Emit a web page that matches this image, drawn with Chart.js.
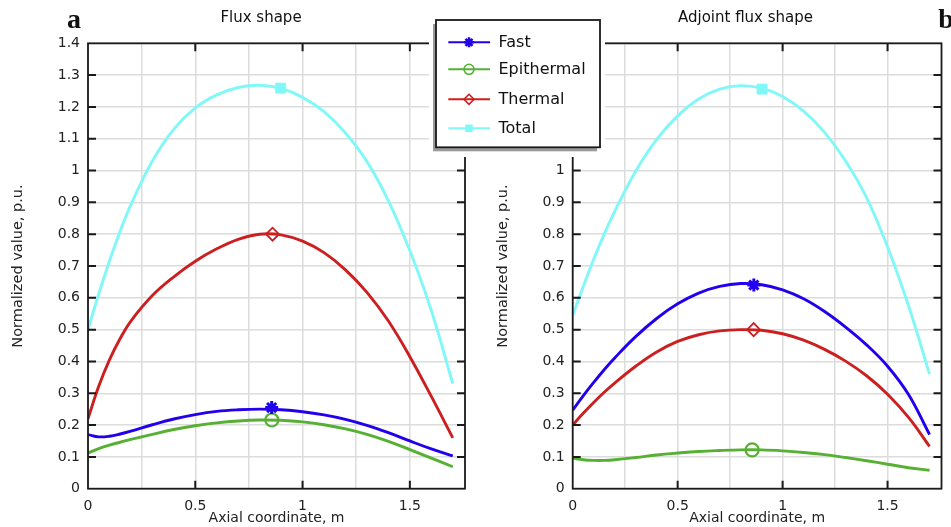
<!DOCTYPE html>
<html lang="en">
<head>
  <meta charset="UTF-8" />
  <title>Flux shape / Adjoint flux shape</title>
  <script src="https://cdn.jsdelivr.net/npm/chart.js"></script>
  <style>
    body {
      margin: 0;
      background: #fff;
    }

    #wrap {
      position: relative;
      width: 951px;
      height: 527px;
      overflow: hidden;
    }

    #fluxChart { position: absolute; left: 0; top: 0; }
    #adjChart  { position: absolute; left: 420px; top: 0; }
  </style>
</head>
<body>
  <div id="wrap">
    <canvas id="fluxChart" width="480" height="527"></canvas>
    <canvas id="adjChart" width="531" height="527"></canvas>
  </div>

  <script>
    // axial positions (m) shared by all curves
    const axialX = [0, 0.05, 0.1, 0.15, 0.2, 0.3, 0.4, 0.5, 0.6, 0.7, 0.8, 0.9, 1.0, 1.1, 1.2, 1.3, 1.4, 1.5, 1.6, 1.7];

    // panel a - flux shape
    const fluxFast    = [0.170, 0.163, 0.165, 0.172, 0.181, 0.201, 0.219, 0.233, 0.243, 0.248, 0.250, 0.248, 0.242, 0.232, 0.218, 0.199, 0.176, 0.150, 0.125, 0.103];
    const fluxEpi     = [0.112, 0.126, 0.137, 0.146, 0.155, 0.171, 0.186, 0.198, 0.207, 0.213, 0.216, 0.215, 0.210, 0.201, 0.188, 0.171, 0.149, 0.123, 0.096, 0.069];
    const fluxThermal = [0.220, 0.322, 0.405, 0.472, 0.527, 0.607, 0.666, 0.715, 0.754, 0.784, 0.800, 0.798, 0.778, 0.742, 0.688, 0.617, 0.527, 0.415, 0.290, 0.160];
    const fluxTotal   = [0.500, 0.612, 0.716, 0.810, 0.893, 1.030, 1.130, 1.197, 1.238, 1.261, 1.268, 1.258, 1.230, 1.185, 1.118, 1.028, 0.905, 0.748, 0.560, 0.330];

    // panel b - adjoint flux shape
    const adjFast    = [0.247, 0.292, 0.334, 0.374, 0.411, 0.478, 0.535, 0.581, 0.615, 0.636, 0.645, 0.641, 0.625, 0.597, 0.557, 0.508, 0.452, 0.385, 0.296, 0.170];
    const adjEpi     = [0.096, 0.091, 0.089, 0.089, 0.091, 0.098, 0.106, 0.112, 0.117, 0.120, 0.122, 0.122, 0.119, 0.114, 0.107, 0.098, 0.088, 0.077, 0.066, 0.058];
    const adjThermal = [0.200, 0.237, 0.271, 0.303, 0.332, 0.385, 0.430, 0.463, 0.484, 0.496, 0.500, 0.498, 0.487, 0.467, 0.438, 0.401, 0.355, 0.297, 0.224, 0.133];
    const adjTotal   = [0.545, 0.635, 0.721, 0.800, 0.872, 0.998, 1.098, 1.172, 1.225, 1.256, 1.267, 1.259, 1.233, 1.187, 1.120, 1.030, 0.915, 0.760, 0.575, 0.360];

    // single marker per curve (fast, epithermal, thermal, total)
    const fluxMarkX = [0.856, 0.857, 0.860, 0.898];
    const fluxMarkY = [0.255, 0.216, 0.800, 1.259];
    const adjMarkX  = [0.863, 0.855, 0.862, 0.902];
    const adjMarkY  = [0.640, 0.122, 0.500, 1.256];

    // ticks
    const xGridTicks = [0, 0.25, 0.5, 0.75, 1, 1.25, 1.5];
    const xLabelTicks = [0, 0.5, 1, 1.5];
    const yTicks = [0, 0.1, 0.2, 0.3, 0.4, 0.5, 0.6, 0.7, 0.8, 0.9, 1, 1.1, 1.2, 1.3, 1.4];

    const seriesNames = ['Fast', 'Epithermal', 'Thermal', 'Total'];
    const seriesColors = ['#2200ee', '#55b033', '#cc1f1f', '#80f8f8'];
    const markStyles = ['star', 'circle', 'rectRot', 'rect'];
    const markRadius = [6.5, 6.5, 6.5, 7];
    const markBorder = [3, 2.2, 1.8, 1];
    const markFill = ['#2200ee', 'rgba(0,0,0,0)', 'rgba(0,0,0,0)', '#80f8f8'];

    const FONT = 'DejaVu Sans';
    const X_MAX = 1.757;
    const TICK = 8;

    function makeDatasets(series, markX, markY) {
      const ds = series.map((vals, i) => ({
        label: seriesNames[i],
        data: axialX.map((x, j) => ({ x: x, y: vals[j] })),
        borderColor: seriesColors[i],
        borderWidth: 2.9,
        pointRadius: 0,
        tension: 0.4,
        fill: false
      }));
      series.forEach((_, i) => {
        ds.push({
          label: seriesNames[i] + ' marker',
          data: [{ x: markX[i], y: markY[i] }],
          showLine: false,
          pointStyle: markStyles[i],
          pointRadius: markRadius[i],
          pointBorderWidth: markBorder[i],
          pointBorderColor: seriesColors[i],
          pointBackgroundColor: markFill[i],
          clip: false
        });
      });
      return ds;
    }

    // box round the plot + inward tick marks
    const frameTicks = {
      id: 'frameTicks',
      afterDatasetsDraw(chart) {
        const { ctx, chartArea: a, scales: { x, y } } = chart;
        ctx.save();
        ctx.strokeStyle = '#1a1a1a';
        ctx.lineWidth = 1.8;
        ctx.strokeRect(a.left, a.top, a.right - a.left, a.bottom - a.top);
        ctx.lineWidth = 2;
        ctx.beginPath();
        xLabelTicks.slice(1).forEach(v => {
          const px = x.getPixelForValue(v);
          ctx.moveTo(px, a.bottom); ctx.lineTo(px, a.bottom - TICK);
          ctx.moveTo(px, a.top); ctx.lineTo(px, a.top + TICK);
        });
        yTicks.slice(1, -1).forEach(v => {
          const py = y.getPixelForValue(v);
          ctx.moveTo(a.left, py); ctx.lineTo(a.left + TICK, py);
          ctx.moveTo(a.right, py); ctx.lineTo(a.right - TICK, py);
        });
        ctx.stroke();
        ctx.restore();
      }
    };

    // panel title and letter
    const panelText = {
      id: 'panelText',
      afterDraw(chart, args, opts) {
        const ctx = chart.ctx;
        ctx.save();
        ctx.fillStyle = '#111';
        ctx.textAlign = 'center';
        ctx.textBaseline = 'alphabetic';
        ctx.font = '15px "' + FONT + '"';
        ctx.fillText(opts.title, opts.titleX, 21.5);
        ctx.font = 'bold 28px "Liberation Serif"';
        ctx.fillText(opts.letter, opts.letterX, 28);
        ctx.restore();
      }
    };

    function drawMark(ctx, style, x, y, r) {
      ctx.beginPath();
      if (style === 'star') {
        for (let k = 0; k < 4; k++) {
          const ang = k * Math.PI / 4;
          ctx.moveTo(x + r * Math.cos(ang), y + r * Math.sin(ang));
          ctx.lineTo(x - r * Math.cos(ang), y - r * Math.sin(ang));
        }
        ctx.stroke();
      } else if (style === 'circle') {
        ctx.arc(x, y, r, 0, Math.PI * 2);
        ctx.stroke();
      } else if (style === 'rectRot') {
        ctx.moveTo(x, y - r); ctx.lineTo(x + r, y); ctx.lineTo(x, y + r); ctx.lineTo(x - r, y);
        ctx.closePath();
        ctx.stroke();
      } else {
        ctx.fillRect(x - r * 0.75, y - r * 0.75, r * 1.5, r * 1.5);
      }
    }

    // legend box drawn over both panels (on the right canvas)
    const boxLegend = {
      id: 'boxLegend',
      afterDraw(chart) {
        const ctx = chart.ctx;
        const rows = [42.3, 69.3, 99.3, 128.3];
        ctx.save();
        ctx.fillStyle = '#fff';
        ctx.fillRect(9, 12, 176, 145);
        ctx.fillStyle = '#9a9a9a';
        ctx.fillRect(13, 24, 164, 127.3);
        ctx.fillStyle = '#fff';
        ctx.fillRect(16, 20, 164, 127.3);
        ctx.strokeStyle = '#1a1a1a';
        ctx.lineWidth = 1.8;
        ctx.strokeRect(16, 20, 164, 127.3);

        ctx.font = '16px "' + FONT + '"';
        ctx.textBaseline = 'middle';
        ctx.textAlign = 'left';
        rows.forEach((ry, i) => {
          ctx.strokeStyle = seriesColors[i];
          ctx.fillStyle = seriesColors[i];
          ctx.lineWidth = 2;
          ctx.beginPath();
          ctx.moveTo(28.3, ry); ctx.lineTo(70, ry);
          ctx.stroke();
          ctx.lineWidth = i === 0 ? 2.5 : 1.6;
          drawMark(ctx, markStyles[i], 49, ry, 5);
          ctx.fillStyle = '#111';
          ctx.fillText(seriesNames[i], 78.5, ry + 1);
        });
        ctx.restore();
      }
    };

    function makeOptions(padLeft, padRight, textOpts) {
      const tickFont = { family: FONT, size: 14 };
      return {
        responsive: false,
        animation: false,
        events: [],
        layout: { padding: { left: padLeft, right: padRight, top: 43.3, bottom: 0 } },
        plugins: {
          legend: { display: false },
          tooltip: { enabled: false },
          title: { display: false },
          panelText: textOpts
        },
        scales: {
          x: {
            type: 'linear',
            min: 0,
            max: X_MAX,
            afterBuildTicks: s => { s.ticks = xGridTicks.map(v => ({ value: v })); },
            afterFit: s => { s.height = 38.3; },
            grid: { color: '#dcdcdc', lineWidth: 1.5, drawTicks: false },
            border: { display: false },
            ticks: {
              autoSkip: false,
              maxRotation: 0,
              padding: 9,
              color: '#222',
              font: tickFont,
              callback: v => xLabelTicks.includes(v) ? String(v) : ''
            },
            title: {
              display: true,
              text: 'Axial coordinate, m',
              color: '#222',
              font: tickFont,
              padding: { top: 0, bottom: 0 }
            }
          },
          y: {
            type: 'linear',
            min: 0,
            max: 1.4,
            afterBuildTicks: s => { s.ticks = yTicks.map(v => ({ value: v })); },
            afterFit: s => { s.width = 88; },
            grid: { color: '#dcdcdc', lineWidth: 1.5, drawTicks: false },
            border: { display: false },
            ticks: {
              padding: 8,
              color: '#222',
              font: tickFont,
              callback: v => String(Math.round(v * 10) / 10)
            },
            title: {
              display: true,
              text: 'Normalized value, p.u.',
              color: '#222',
              font: { family: FONT, size: 14.5 },
              padding: { top: 9.5, bottom: 0 }
            }
          }
        }
      };
    }

    new Chart(document.getElementById('fluxChart'), {
      type: 'line',
      data: { datasets: makeDatasets([fluxFast, fluxEpi, fluxThermal, fluxTotal], fluxMarkX, fluxMarkY) },
      options: makeOptions(0, 15, { title: 'Flux shape', titleX: 261, letter: 'a', letterX: 74 }),
      plugins: [frameTicks, panelText]
    });

    new Chart(document.getElementById('adjChart'), {
      type: 'line',
      data: { datasets: makeDatasets([adjFast, adjEpi, adjThermal, adjTotal], adjMarkX, adjMarkY) },
      options: makeOptions(64.7, 1.5, { title: 'Adjoint flux shape', titleX: 325.5, letter: 'b', letterX: 526 }),
      plugins: [frameTicks, panelText, boxLegend]
    });
  </script>
</body>
</html>
